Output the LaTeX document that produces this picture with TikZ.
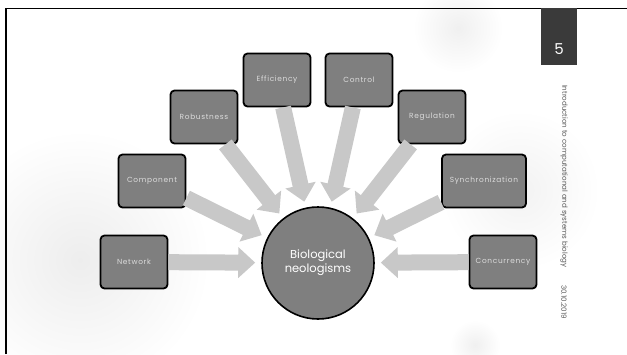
\documentclass[tikz,border=0pt]{standalone}
\usepackage{fontspec}
\setmainfont{Poppins}
\newfontfamily\boxfont[LetterSpace=9]{Poppins}
\usetikzlibrary{arrows.meta}
\definecolor{boxgray}{HTML}{7F7F7F}
\definecolor{boxtext}{HTML}{DCDCDC}
\definecolor{arrowgray}{HTML}{C8C8C8}
\definecolor{pagegray}{HTML}{3A3A3A}
\definecolor{sidetext}{HTML}{595959}

\begin{document}
\begin{tikzpicture}
[x=1pt,y=-1pt,
 box/.style={draw=black,line width=1.8pt,rounded corners=4pt,fill=boxgray,minimum width=67pt,minimum height=53pt,text=boxtext,font=\boxfont\fontsize{7.4}{8}\selectfont},
 fat/.style={draw=arrowgray,line width=16pt,-{Triangle[width=30pt,length=17pt]},shorten >=6pt}]
\useasboundingbox (0,0) rectangle (627,354);
\fill[white] (0,0) rectangle (627,354);
\shade[inner color=black!7,outer color=white] (80,260) circle (130);
\shade[inner color=black!6,outer color=white] (458,28) circle (45);
\shade[inner color=black!5,outer color=white] (520,190) circle (80);
\shade[inner color=black!6,outer color=white] (475,345) circle (25);
\draw[line width=1.4pt] (6,354) -- (6,8.5) -- (627,8.5);
\fill[pagegray] (541,8) rectangle (577,65);
\node[text=white,font=\fontsize{15}{16}\selectfont] (num) at (559,49) {5};
\node[rotate=-90,anchor=west,text=sidetext,font=\fontsize{7.1}{8}\selectfont,inner sep=0pt] (title) at (564,85) {Introduction to computational and systems biology};
\node[rotate=-90,anchor=west,text=sidetext,font=\fontsize{7.1}{8}\selectfont,inner sep=0pt] (date) at (564,285) {30.10.2019};
\node[box] (net) at (134,262) {Network};
\node[box] (comp) at (152,181) {Component};
\node[box] (rob) at (204,117) {Robustness};
\node[box] (eff) at (277,80) {Efficiency};
\node[box] (ctrl) at (359,80) {Control};
\node[box] (reg) at (432,117) {Regulation};
\node[box,minimum width=84pt] (sync) at (484,181) {Synchronization};
\node[box] (conc) at (503,262) {Concurrency};
\node[circle,draw=black,line width=1.6pt,fill=boxgray,minimum size=112pt,text=white,align=center,font=\fontsize{11.5}{14}\selectfont] (bio) at (318,263) {Biological\\neologisms};
\foreach \n in {net,comp,rob,eff,ctrl,reg,sync,conc} \draw[fat] (\n) -- (bio);
\end{tikzpicture}
\end{document}
